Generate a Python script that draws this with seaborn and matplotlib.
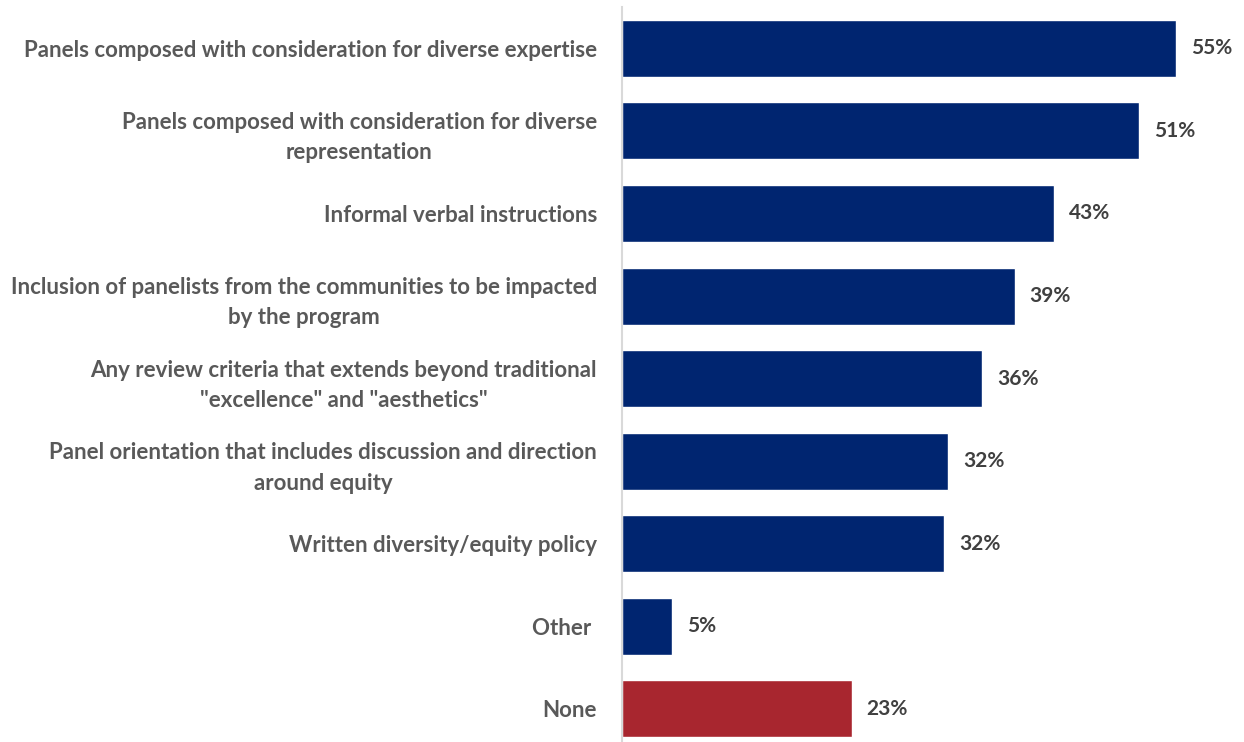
import matplotlib
matplotlib.use("Agg")
import matplotlib.pyplot as plt
import seaborn as sns
import pandas as pd

categories = [
    "Panels composed with consideration for diverse expertise",
    "Panels composed with consideration for diverse\nrepresentation",
    "Informal verbal instructions",
    "Inclusion of panelists from the communities to be impacted\nby the program",
    "Any review criteria that extends beyond traditional\n\"excellence\" and \"aesthetics\"",
    "Panel orientation that includes discussion and direction\naround equity",
    "Written diversity/equity policy",
    "Other ",
    "None",
]
values = [55.0, 51.4, 42.9, 39.0, 35.8, 32.4, 32.0, 5.0, 22.8]
labels = ["55%", "51%", "43%", "39%", "36%", "32%", "32%", "5%", "23%"]
colors = ["#002570"] * 8 + ["#A8262F"]

sns.set_theme(style="white")
plt.rcParams["font.family"] = ["Lato", "DejaVu Sans"]

df = pd.DataFrame({"cat": categories, "val": values})

fig = plt.figure(figsize=(12.44, 7.42), dpi=100)
ax = fig.add_axes([0.5, 0.0, 0.4936, 0.9906])
sns.barplot(data=df, y="cat", x="val", hue="cat", palette=colors, legend=False,
            orient="h", width=0.69, ax=ax, saturation=1)
ax.set_xlim(0, 61)
ax.set_ylim(8.40, -0.5)
ax.set_xlabel("")
ax.set_ylabel("")
ax.set_xticks([])
for s in ["top", "right", "bottom"]:
    ax.spines[s].set_visible(False)
ax.spines["left"].set_color("#D9D9D9")
ax.spines["left"].set_linewidth(1.5)
ax.tick_params(axis="y", length=0, pad=18)
for t in ax.get_yticklabels():
    t.set_fontsize(16)
    t.set_fontweight("bold")
    t.set_color("#595959")
    t.set_horizontalalignment("right")
    t.set_multialignment("center")
    t.set_linespacing(1.55)

for i, (v, l) in enumerate(zip(values, labels)):
    ax.text(v + 1.5, i, l, va="center", ha="left", fontsize=15,
            fontweight="bold", color="#404040")

fig.savefig("out.png", dpi=100)
